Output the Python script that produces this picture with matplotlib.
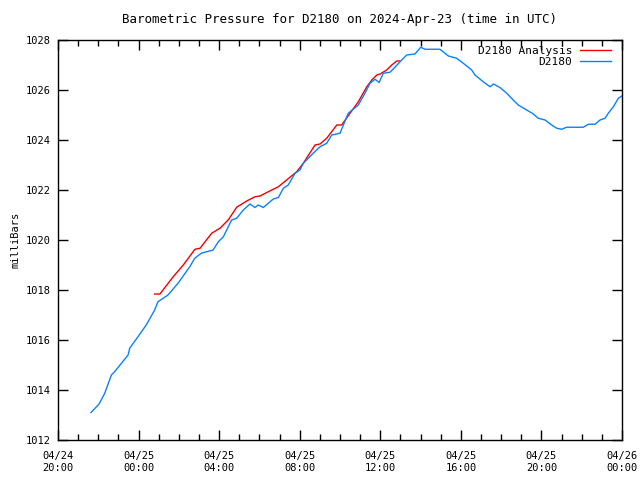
import datetime as dt
import matplotlib
matplotlib.use("Agg")
import matplotlib.pyplot as plt
import matplotlib.dates as mdates

# hours relative to 2024-04-25 00:00 UTC
obs_hours = [-2.36, -1.96, -1.68, -1.35, -1.19, -0.52, -0.44, -0.03, 0.38, 0.80,
             0.96, 1.46, 1.96, 2.54, 2.79, 3.11, 3.70, 3.96, 4.21, 4.62,
             4.87, 5.20, 5.53, 5.78, 5.94, 6.19, 6.69, 6.94, 7.19, 7.43,
             7.77, 8.01, 8.18, 8.67, 9.01, 9.34, 9.59, 10.00, 10.41, 10.91,
             11.24, 11.49, 11.74, 11.94, 12.15, 12.48, 12.73, 12.98, 13.31, 13.72,
             14.01, 14.22, 14.96, 15.38, 15.79, 16.12, 16.54, 16.70, 17.11, 17.45,
             17.62, 17.94, 18.28, 18.60, 18.85, 19.27, 19.60, 19.84, 20.18, 20.51,
             20.76, 21.01, 21.25, 22.08, 22.33, 22.66, 22.91, 23.16, 23.32, 23.57,
             23.82, 24.0]
obs_press = [1013.10, 1013.44, 1013.87, 1014.60, 1014.73, 1015.40, 1015.67, 1016.13, 1016.60, 1017.20,
             1017.53, 1017.80, 1018.27, 1018.93, 1019.27, 1019.47, 1019.60, 1019.93, 1020.13, 1020.80,
             1020.87, 1021.20, 1021.44, 1021.30, 1021.40, 1021.30, 1021.64, 1021.70, 1022.07, 1022.20,
             1022.67, 1022.80, 1023.07, 1023.47, 1023.73, 1023.87, 1024.20, 1024.27, 1025.07, 1025.40,
             1025.87, 1026.27, 1026.43, 1026.30, 1026.67, 1026.71, 1026.91, 1027.13, 1027.40, 1027.44,
             1027.71, 1027.63, 1027.63, 1027.36, 1027.27, 1027.07, 1026.80, 1026.60, 1026.33, 1026.13,
             1026.24, 1026.10, 1025.87, 1025.60, 1025.40, 1025.20, 1025.04, 1024.87, 1024.80, 1024.60,
             1024.47, 1024.43, 1024.51, 1024.51, 1024.63, 1024.63, 1024.80, 1024.87, 1025.07, 1025.33,
             1025.67, 1025.76]

ana_hours = [0.80, 1.06, 1.72, 2.22, 2.80, 3.05, 3.63, 4.04, 4.45, 4.87,
             5.37, 5.78, 6.03, 6.44, 6.94, 7.35, 7.85, 8.18, 8.76, 9.01,
             9.34, 9.84, 10.08, 10.91, 11.33, 11.58, 11.83, 11.99, 12.32, 12.57,
             12.82, 12.98]
ana_press = [1017.84, 1017.84, 1018.53, 1019.00, 1019.63, 1019.67, 1020.27, 1020.47, 1020.80, 1021.31,
             1021.56, 1021.73, 1021.76, 1021.93, 1022.13, 1022.40, 1022.73, 1023.07, 1023.80, 1023.84,
             1024.07, 1024.60, 1024.60, 1025.53, 1026.13, 1026.40, 1026.60, 1026.64, 1026.80, 1027.00,
             1027.16, 1027.16]

base = dt.datetime(2024, 4, 25)
obs_t = [base + dt.timedelta(hours=h) for h in obs_hours]
ana_t = [base + dt.timedelta(hours=h) for h in ana_hours]

plt.rcParams['font.family'] = ['DejaVu Sans Mono']
plt.rcParams['font.size'] = 7.5

fig = plt.figure(figsize=(6.4, 4.8), dpi=100)
ax = fig.add_axes([58 / 640, 40 / 480, 564 / 640, 400 / 480])

ax.plot(ana_t, ana_press, color='#f00000', lw=1, label='D2180 Analysis')
ax.plot(obs_t, obs_press, color='#0a80ff', lw=1, label='D2180')

ax.set_xlim(dt.datetime(2024, 4, 24, 20), dt.datetime(2024, 4, 26, 0))
ax.set_ylim(1012, 1028)
ax.set_yticks(range(1012, 1029, 2))
ax.xaxis.set_major_locator(mdates.HourLocator(byhour=range(0, 24, 4)))
ax.xaxis.set_minor_locator(mdates.HourLocator())
ax.xaxis.set_major_formatter(mdates.DateFormatter('%m/%d\n%H:%M'))

ax.tick_params(which='both', direction='in', top=True, right=True, width=1)
ax.tick_params(which='major', length=7, pad=5)
ax.tick_params(axis='x', which='major', pad=8)
ax.tick_params(which='minor', length=4)
for s in ax.spines.values():
    s.set_linewidth(1)

ax.set_ylabel('milliBars')
ax.set_title('Barometric Pressure for D2180 on 2024-Apr-23 (time in UTC)', pad=12)
ax.legend(loc='upper right', bbox_to_anchor=(0.992, 1.0), frameon=False,
          markerfirst=False, handlelength=2.8, handletextpad=0.7,
          borderaxespad=0.35, borderpad=0.2, labelspacing=0.1, fontsize=8)

fig.savefig('out.png', dpi=100)
